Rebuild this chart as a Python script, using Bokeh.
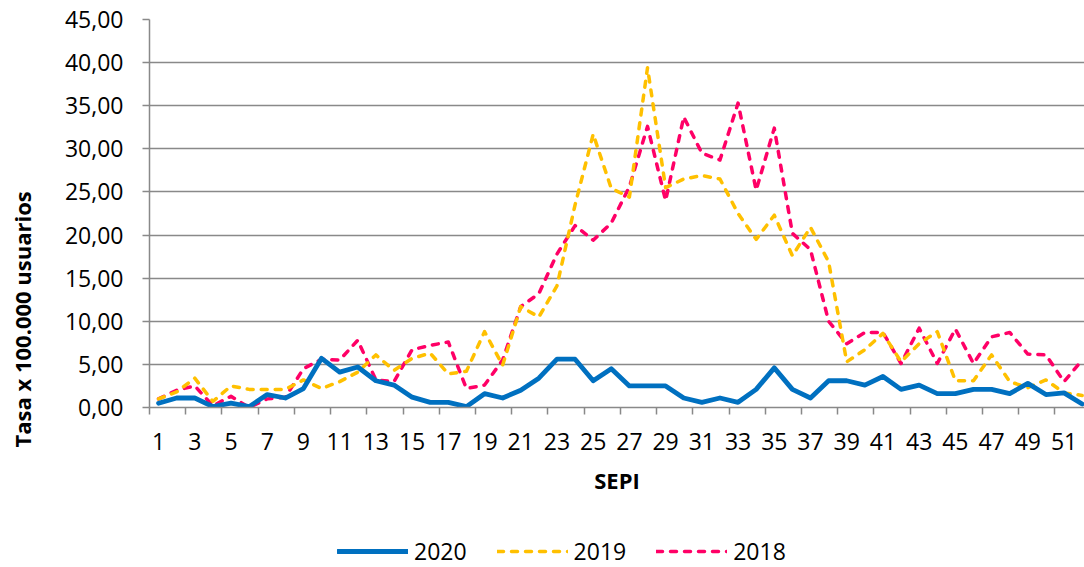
from bokeh.plotting import figure
from bokeh.layouts import column
from bokeh.models import FixedTicker, Legend, LegendItem, Title, ColumnDataSource
from bokeh.embed import file_html
from bokeh.resources import INLINE

# ---------------- data ----------------
weeks = list(range(1, 53))

tasa_2020 = [0.5, 1.1, 1.1, 0.1, 0.5, 0.1, 1.5, 1.1, 2.2, 5.7, 4.1, 4.7, 3.1, 2.6, 1.2, 0.6,
             0.6, 0.1, 1.6, 1.1, 2.0, 3.4, 5.6, 5.6, 3.1, 4.5, 2.5, 2.5, 2.5, 1.1, 0.6, 1.1,
             0.6, 2.1, 4.6, 2.1, 1.1, 3.1, 3.1, 2.6, 3.6, 2.1, 2.6, 1.6, 1.6, 2.1, 2.1, 1.6,
             2.8, 1.5, 1.7, 0.4]

tasa_2019 = [1.0, 1.8, 3.4, 0.7, 2.5, 2.1, 2.1, 2.1, 3.2, 2.2, 3.0, 4.1, 6.1, 4.3, 5.7, 6.3,
             3.9, 4.2, 8.8, 4.9, 11.7, 10.5, 14.1, 23.5, 31.7, 25.4, 24.4, 39.4, 25.5, 26.5,
             26.9, 26.5, 22.5, 19.5, 22.3, 17.6, 20.9, 16.9, 5.3, 6.7, 8.6, 5.3, 7.4, 8.8,
             3.1, 3.1, 6.1, 3.0, 2.3, 3.2, 1.7, 1.4]

tasa_2018 = [1.0, 2.0, 2.5, 0.2, 1.3, 0.0, 1.0, 1.2, 4.5, 5.6, 5.5, 7.8, 3.2, 3.0, 6.7, 7.2,
             7.6, 2.2, 2.6, 5.5, 11.7, 13.2, 17.8, 21.1, 19.4, 21.4, 25.6, 32.6, 24.0, 33.7,
             29.5, 28.7, 35.3, 25.2, 32.4, 20.2, 18.3, 10.0, 7.4, 8.7, 8.7, 5.1, 9.2, 5.1,
             9.1, 5.1, 8.2, 8.7, 6.2, 6.1, 3.0, 5.5]

series_names = ["2020", "2019", "2018"]
series_colors = ["#0070C0", "#FFC000", "#FF0066"]

y_ticks = [0, 5, 10, 15, 20, 25, 30, 35, 40, 45]
y_tick_labels = ["0,00", "5,00", "10,00", "15,00", "20,00", "25,00",
                 "30,00", "35,00", "40,00", "45,00"]
x_label_weeks = list(range(1, 52, 2))
x_boundaries = [w - 0.5 for w in range(1, 54, 2)]

y_title = "Tasa x 100.000 usuarios"
x_title = "SEPI"

FONT = "Open Sans"
GRID = "#898989"
W = 1084
H_MAIN = 515
H_LEG = 567 - H_MAIN

line_styles = [dict(line_width=4.8),
               dict(line_width=3.5, line_dash="6 8"),
               dict(line_width=3.5, line_dash="6 8")]
cols = ["s2020", "s2019", "s2018"]
src = ColumnDataSource(dict(week=weeks, s2020=tasa_2020, s2019=tasa_2019, s2018=tasa_2018))

# ---------------- main figure ----------------
p = figure(width=W, height=H_MAIN, output_backend="svg", toolbar_location=None,
           x_range=(0.5, 52.13), y_range=(0, 45),
           min_border_left=149, min_border_right=0, min_border_top=19,
           min_border_bottom=H_MAIN - 407)
p.outline_line_color = None
p.background_fill_color = "white"
p.border_fill_color = "white"

p.xgrid.grid_line_color = None
p.ygrid.grid_line_color = GRID
p.ygrid.grid_line_width = 1.5
p.ygrid.ticker = FixedTicker(ticks=y_ticks)

# y axis
p.yaxis.ticker = FixedTicker(ticks=y_ticks)
p.yaxis.major_label_overrides = {t: s for t, s in zip(y_ticks, y_tick_labels)}
p.yaxis.axis_line_color = GRID
p.yaxis.axis_line_width = 1.5
p.yaxis.major_tick_line_color = GRID
p.yaxis.major_tick_line_width = 1.5
p.yaxis.major_tick_out = 7
p.yaxis.major_tick_in = 0
p.yaxis.minor_tick_line_color = None
p.yaxis.major_label_standoff = 19
p.yaxis.major_label_text_font = FONT
p.yaxis.major_label_text_font_size = "23px"
p.yaxis.major_label_text_color = "black"
# tiny blank axis label used only as spacing before the rotated title
p.yaxis.axis_label = " "
p.yaxis.axis_label_text_font_size = "1px"
p.yaxis.axis_label_standoff = 20

# x axis: labels at odd weeks, ticks at category boundaries (minor ticks)
p.xaxis.ticker = FixedTicker(ticks=x_label_weeks, minor_ticks=x_boundaries)
p.xaxis.axis_line_color = GRID
p.xaxis.axis_line_width = 1.5
p.xaxis.major_tick_line_color = None
p.xaxis.major_tick_out = 0
p.xaxis.major_tick_in = 0
p.xaxis.minor_tick_line_color = GRID
p.xaxis.minor_tick_line_width = 1.5
p.xaxis.minor_tick_out = 7
p.xaxis.minor_tick_in = 0
p.xaxis.major_label_standoff = 18
p.xaxis.major_label_text_font = FONT
p.xaxis.major_label_text_font_size = "23px"
p.xaxis.major_label_text_color = "black"
p.xaxis.axis_label = x_title
p.xaxis.axis_label_standoff = 12
p.xaxis.axis_label_text_font = FONT
p.xaxis.axis_label_text_font_style = "bold"
p.xaxis.axis_label_text_font_size = "22px"
p.xaxis.axis_label_text_color = "black"

for k in (2, 1, 0):
    p.line("week", cols[k], source=src, line_color=series_colors[k],
           line_cap="round", line_join="round", **line_styles[k])

p.add_layout(Title(text=y_title, align="left", offset=-40, vertical_align="middle",
                   standoff=0, text_font=FONT, text_font_style="bold",
                   text_font_size="22px", text_color="black"), "left")

# ---------------- legend strip (frame aligned with the main frame) ----------------
# its ranges lie outside the data, so the proxy lines only feed the legend
pl = figure(width=W, height=H_LEG, output_backend="svg", toolbar_location=None,
            x_range=(-2, -1), y_range=(-2, -1), x_axis_type=None, y_axis_type=None,
            min_border_left=0, min_border_right=0, min_border_top=0, min_border_bottom=0)
pl.outline_line_color = None
pl.xgrid.visible = False
pl.ygrid.visible = False
leg_renderers = []
for k in range(3):
    leg_renderers.append(pl.line("week", cols[k], source=src, line_color=series_colors[k],
                                 line_cap="round", line_join="round", **line_styles[k]))
legend = Legend(items=[LegendItem(label=series_names[k], renderers=[leg_renderers[k]])
                       for k in range(3)],
                orientation="horizontal", location=(188, 0),
                glyph_width=71, glyph_height=20, label_standoff=6, spacing=30,
                padding=0, margin=0, background_fill_alpha=0, border_line_alpha=0,
                label_text_font=FONT, label_text_font_size="23px",
                label_text_color="black")
pl.add_layout(legend, "center")

layout = column(p, pl, spacing=0)
open("out.html", "w").write(file_html(layout, INLINE))
